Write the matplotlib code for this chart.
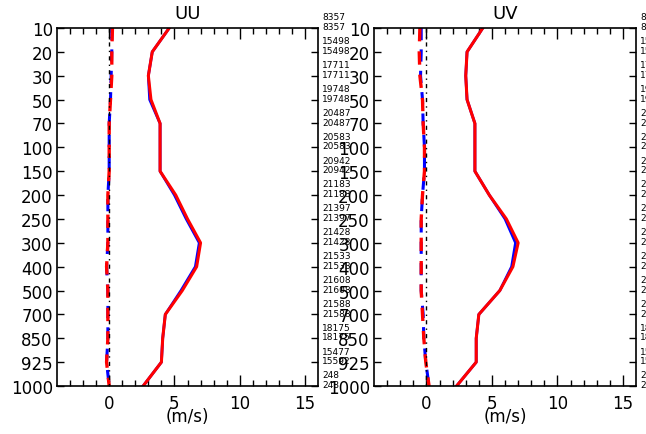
import numpy as np
import matplotlib
matplotlib.use("Agg")
import matplotlib.pyplot as plt

# pressure levels (hPa), top to bottom
levels = [10, 20, 30, 50, 70, 100, 150, 200, 250, 300, 400, 500, 700, 850, 925, 1000]

# sample counts shown on the right of each panel (two rows per level)
counts_top = [8357, 15498, 17711, 19748, 20487, 20583, 20942, 21183,
              21397, 21428, 21533, 21608, 21588, 18175, 15477, 248]
counts_bot = [8357, 15498, 17711, 19748, 20487, 20583, 20942, 21183,
              21397, 21428, 21533, 21608, 21588, 18175, 15592, 248]

# UU panel (m/s)
uu_rms_red = [4.6, 3.3, 3.0, 3.2, 3.9, 3.9, 3.9, 5.1, 6.0, 7.0, 6.7, 5.6, 4.3, 4.1, 4.0, 2.6]
uu_rms_blue = [4.6, 3.3, 3.0, 3.1, 3.9, 3.9, 3.9, 5.0, 5.9, 6.9, 6.6, 5.5, 4.3, 4.1, 4.0, 2.6]
uu_bias_red = [0.25, 0.2, 0.2, 0.1, 0.0, 0.0, 0.0, -0.1, -0.1, -0.1, -0.2, -0.1, -0.1, -0.1, -0.2, 0.0]
uu_bias_blue = [0.2, 0.2, 0.15, 0.1, 0.0, 0.0, 0.0, -0.1, -0.1, -0.1, -0.2, -0.1, -0.1, -0.1, -0.2, 0.0]

# UV panel (m/s)
uv_rms_red = [4.3, 3.1, 3.0, 3.1, 3.7, 3.7, 3.7, 4.8, 6.1, 7.0, 6.6, 5.6, 4.0, 3.8, 3.8, 2.3]
uv_rms_blue = [4.3, 3.1, 3.0, 3.1, 3.7, 3.7, 3.7, 4.8, 6.0, 6.8, 6.5, 5.6, 4.0, 3.8, 3.8, 2.3]
uv_bias_red = [-0.5, -0.55, -0.5, -0.3, -0.25, -0.15, -0.15, -0.3, -0.4, -0.4, -0.4, -0.4, -0.3, -0.2, -0.05, 0.2]
uv_bias_blue = [-0.4, -0.4, -0.45, -0.3, -0.25, -0.15, -0.15, -0.3, -0.4, -0.4, -0.4, -0.4, -0.25, -0.2, -0.05, 0.2]

fig = plt.figure(figsize=(6.46, 4.35), dpi=100)
ypos = np.arange(len(levels))


def panel(rect, title, rms_b, rms_r, bias_b, bias_r):
    ax = fig.add_axes(rect)
    ax.plot(rms_b, ypos, color="blue", lw=2.0)
    ax.plot(rms_r, ypos, color="red", lw=2.2)
    ax.plot(bias_b, ypos, color="blue", lw=2.2, ls=(0, (4, 3)))
    ax.plot(bias_r, ypos, color="red", lw=2.4, ls=(0, (4, 3)))
    ax.plot([0, 0], [ypos[0], ypos[-1]], color="black", lw=1.0, ls=(0, (3, 3, 1, 3)))
    ax.set_xlim(-4, 16)
    ax.set_ylim(ypos[-1], ypos[0])
    ax.set_yticks(ypos)
    ax.set_yticklabels([str(l) for l in levels], fontsize=12)
    ax.set_xticks([0, 5, 10, 15])
    ax.set_xticks(np.arange(-3, 16, 1), minor=True)
    ax.set_xticklabels(["0", "5", "10", "15"], fontsize=12)
    ax.tick_params(axis="x", which="major", direction="in", length=8, width=1,
                   top=True, pad=6)
    ax.tick_params(axis="x", which="minor", direction="in", length=4, width=1, top=True)
    ax.tick_params(axis="y", which="major", direction="in", length=5, width=1,
                   right=True, pad=3)
    for s in ax.spines.values():
        s.set_linewidth(1.2)
    ax.set_title(title, fontsize=13, pad=7)
    ax.set_xlabel("(m/s)", fontsize=12, labelpad=-4)
    for i in range(len(levels)):
        ax.annotate(str(counts_top[i]), xy=(1, ypos[i]), xycoords=("axes fraction", "data"),
                    xytext=(3, 8), textcoords="offset points", fontsize=6.5,
                    ha="left", va="center")
        ax.annotate(str(counts_bot[i]), xy=(1, ypos[i]), xycoords=("axes fraction", "data"),
                    xytext=(3, 1), textcoords="offset points", fontsize=6.5,
                    ha="left", va="center")
    return ax


panel([0.0882, 0.1103, 0.4041, 0.823], "UU", uu_rms_blue, uu_rms_red, uu_bias_blue, uu_bias_red)
panel([0.579, 0.1103, 0.4056, 0.823], "UV", uv_rms_blue, uv_rms_red, uv_bias_blue, uv_bias_red)

fig.savefig("out.png", dpi=100)
